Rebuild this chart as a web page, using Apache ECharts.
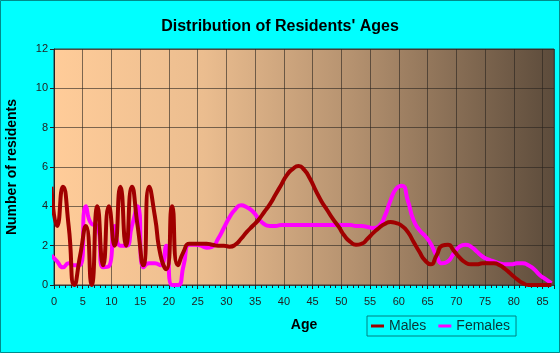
<!DOCTYPE html>
<html><head><meta charset="utf-8">
<script src="https://cdn.jsdelivr.net/npm/echarts@6/dist/echarts.min.js"></script>
<style>html,body{margin:0;padding:0;background:#00FFFF;}#c{width:560px;height:353px;}</style>
</head><body><div id="c"></div>
<script>
const ages = [];
for (let a = 0; a <= 87; a++) ages.push(a);
const males = [5,3,5,3,0,1.5,3,0,4,1,4,2,5,2,5,3,1,5,3.5,1.5,0.8,4,1,1.7,2.1,2.1,2.1,2.1,2.05,2.0,2.0,1.95,2.05,2.35,2.7,3.0,3.3,3.7,4.1,4.6,5.1,5.6,5.9,6.05,5.85,5.4,4.8,4.25,3.8,3.35,2.95,2.5,2.2,2.05,2.1,2.35,2.65,2.9,3.1,3.2,3.15,3.0,2.7,2.2,1.7,1.25,1.05,1.5,2.0,2.05,1.75,1.4,1.15,1.05,1.05,1.1,1.1,1.1,1.0,0.8,0.55,0.3,0.1,0,0,0,0,0];
const females = [1.5,1.2,0.9,1.1,1.0,1.0,4.0,3.1,3.0,0.9,0.95,3.0,2.0,2.0,3.0,4.0,0.9,1.1,1.1,1.0,2.0,0,0,1.0,2.05,2.05,2.0,1.9,1.95,2.35,2.9,3.45,3.85,4.05,3.95,3.75,3.4,3.1,3.0,3.0,3.05,3.05,3.05,3.05,3.05,3.05,3.05,3.05,3.05,3.05,3.05,3.05,3.05,3.0,3.0,2.95,2.9,3.0,3.5,4.3,4.9,5.05,4.3,3.3,2.8,2.5,2.1,1.5,1.1,1.2,1.6,1.95,2.05,1.95,1.7,1.45,1.3,1.2,1.1,1.05,1.05,1.1,1.1,1.0,0.8,0.5,0.3,0.1];
const xTicks = [0,5,10,15,20,25,30,35,40,45,50,55,60,65,70,75,80,85];
const yTicks = [0,2,4,6,8,10,12];

const chart = echarts.init(document.getElementById('c'), null, {renderer:'canvas'});
const font = 'Arial, "Liberation Sans", sans-serif';
chart.setOption({
  backgroundColor: '#00FFFF',
  animation: false,
  title: {
    text: "Distribution of Residents' Ages",
    left: 'center', top: 14,
    textStyle: {fontFamily: font, fontSize: 16, fontWeight: 'bold', color: '#000'}
  },
  legend: {
    data: ['Males','Females'],
    left: 367, top: 316, width: 155, height: 23,
    padding: [3, 6, 3, 4],
    borderColor: '#008080', borderWidth: 1,
    itemWidth: 13, itemHeight: 3, itemGap: 12,
    icon: 'rect',
    textStyle: {fontFamily: font, fontSize: 14, color: '#0b3535'}
  },
  grid: {
    left: 54, top: 49, right: 6, bottom: 68,
    outerBoundsMode: 'none', containLabel: false,
    show: true, borderColor: '#3a3a3a', borderWidth: 1,
    backgroundColor: {type:'linear', x:0, y:0, x2:1, y2:0, colorStops:[
      {offset:0, color:'#FFCC99'},
      {offset:0.3, color:'#EBBD8F'},
      {offset:0.6, color:'#B4916F'},
      {offset:1, color:'#5C4B3B'}
    ]}
  },
  xAxis: [{
    type: 'value', min: 0, max: 87, interval: 5,
    name: 'Age', nameLocation: 'middle', nameGap: 33,
    nameTextStyle: {fontFamily: font, fontSize: 14, fontWeight: 'bold', color: '#000'},
    axisLine: {show: true, lineStyle: {color: '#3a3a3a'}},
    axisTick: {show: true, length: 4, lineStyle: {color: '#222'}},
    minorTick: {show: true, splitNumber: 5, length: 3, lineStyle: {color: '#222'}},
    axisLabel: {fontFamily: font, fontSize: 11, color: '#222', margin: 11,
      formatter: v => xTicks.indexOf(v) >= 0 ? String(v) : ''},
    splitLine: {show: true, lineStyle: {color: 'rgba(40,35,30,0.6)', width: 1}}
  }, {
    type: 'value', min: 0.45, max: 87.45, show: false
  }],
  yAxis: {
    type: 'value', min: 0, max: 12, interval: 2,
    name: 'Number of residents', nameLocation: 'middle', nameGap: 35,
    nameTextStyle: {fontFamily: font, fontSize: 14, fontWeight: 'bold', color: '#000'},
    axisLine: {show: true, lineStyle: {color: '#222'}},
    axisTick: {show: true, length: 4, lineStyle: {color: '#222'}},
    axisLabel: {fontFamily: font, fontSize: 11, color: '#222', margin: 6,
      formatter: v => yTicks.indexOf(v) >= 0 ? String(v) : ''},
    splitLine: {show: true, lineStyle: {color: 'rgba(40,35,30,0.6)', width: 1}}
  },
  series: [{
    name: 'Males', type: 'line', xAxisIndex: 1, smooth: 0.6, showSymbol: false,
    data: ages.map((a,i) => [a, males[i]]),
    lineStyle: {color: '#A00000', width: 4}, itemStyle: {color: '#A00000'}, z: 3
  }, {
    name: 'Females', type: 'line', xAxisIndex: 1, smooth: 0.6, showSymbol: false,
    data: ages.map((a,i) => [a, females[i]]),
    lineStyle: {color: '#FF00FF', width: 4}, itemStyle: {color: '#FF00FF'}, z: 2
  }],
  graphic: [{
    type: 'rect', shape: {x: 0.5, y: 0.5, width: 559, height: 352},
    style: {fill: 'none', stroke: '#008B8B', lineWidth: 1}, silent: true
  }]
});
</script></body></html>
